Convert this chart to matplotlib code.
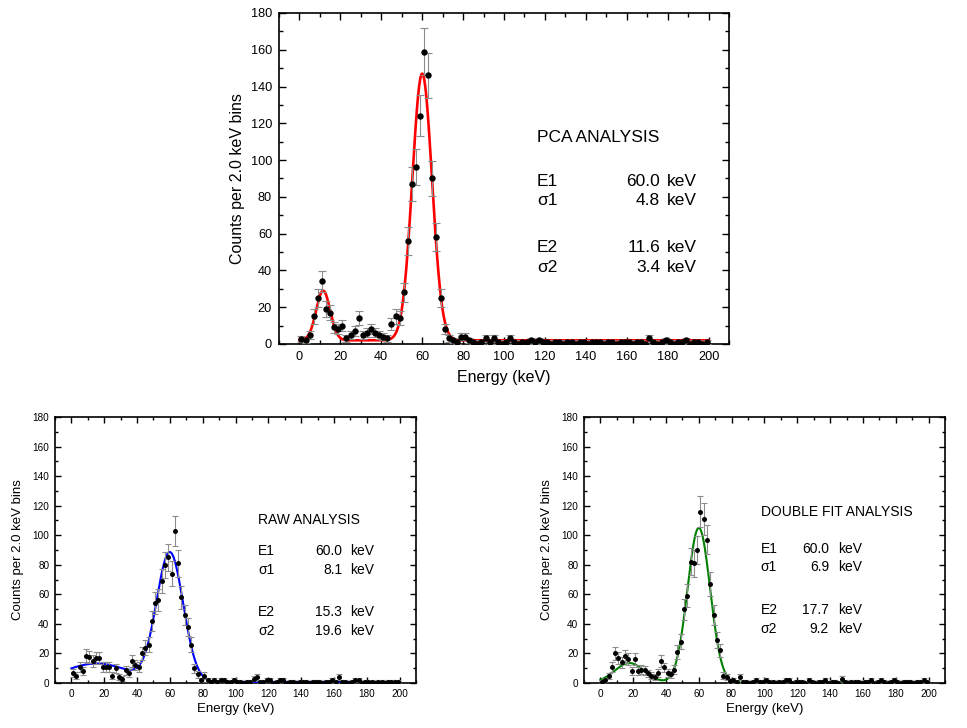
import numpy as np
from matplotlib import pyplot as plt
from matplotlib.ticker import MultipleLocator

plt.rcParams['font.family'] = ['Liberation Sans', 'DejaVu Sans']

# bin centres, 2.0 keV bins
energy = np.arange(1, 200, 2)

# counts per bin
pca_counts = [2.5, 2, 5, 15, 25, 34, 19, 17, 9, 8,
              10, 3, 5, 7, 14, 5, 6, 8, 6, 5,
              4, 3, 11, 15, 14, 28, 56, 87, 96, 124,
              159, 146, 90, 58, 25, 8, 3, 2, 1, 4,
              4, 2, 1, 0, 1, 3, 1, 3, 1, 0,
              1, 3, 1, 0, 1, 1, 2, 1, 2, 1,
              1, 0, 1, 1, 0, 1, 1, 0, 1, 1,
              0, 1, 1, 1, 0, 1, 1, 0, 1, 1,
              1, 0, 1, 1, 0, 3, 1, 0, 1, 2,
              1, 0, 1, 1, 2, 0, 1, 1, 0, 1]
raw_counts = [7, 5, 11, 8, 18.5, 17.5, 15, 17, 17, 11,
              11, 11, 5, 10, 4, 3, 8.5, 7, 15, 12,
              11, 20, 24, 26, 42, 54, 56, 69, 80, 85,
              74, 103, 81, 58, 46, 38, 26, 10, 6, 2,
              5, 2, 1, 2, 1, 2, 2, 1, 1, 2,
              1, 1, 0, 1, 1, 3, 4, 1, 1, 2,
              2, 0, 1, 2, 2, 0, 1, 1, 0, 1,
              1, 1, 0, 1, 1, 1, 0, 1, 1, 2,
              1, 4, 1, 1, 0, 1, 2, 2, 0, 1,
              1, 1, 0, 1, 1, 0, 1, 1, 1, 1]
dbl_counts = [1, 2, 4.5, 11, 20, 17, 14, 18, 16, 8,
              16, 8, 9, 8.5, 6.5, 5, 4, 7, 15, 10.5,
              7, 6, 9, 21, 28, 50, 59, 82, 81, 90,
              116, 111, 97, 67, 46, 29, 22, 5, 4, 1.5,
              2, 1, 4, 1, 1, 0, 1, 2, 1, 1,
              2, 1, 1, 0, 1, 1, 2, 2, 0, 1,
              1, 1, 0, 2, 1, 0, 1, 1, 2, 0,
              1, 1, 0, 3, 1, 0, 1, 1, 1, 0,
              1, 1, 2, 0, 1, 2, 1, 0, 1, 2,
              1, 0, 1, 1, 1, 0, 1, 1, 2, 1]

# fit results: amplitude1, E1, sigma1, amplitude2, E2, sigma2, background
pca_fit = (145, 60.0, 4.8, 27, 11.6, 3.4, 2.0)
raw_fit = (87, 60.0, 8.1, 12.5, 15.3, 19.6, 0.7)
dbl_fit = (105, 60.0, 6.9, 13.5, 17.7, 9.2, 0.0)


def model(x, a1, e1, s1, a2, e2, s2, bg):
    return (bg + a1 * np.exp(-(x - e1) ** 2 / (2 * s1 ** 2))
            + a2 * np.exp(-(x - e2) ** 2 / (2 * s2 ** 2)))


def panel(ax, counts, fit, colour, title, big):
    counts = np.array(counts, dtype=float)
    err = np.sqrt(np.maximum(counts, 1))
    xs = np.linspace(0, 200, 801)
    tick_fs = 9.2 if big else 7.2
    lab_fs = 11.5 if big else 9.5
    ann_fs = 12.5 if big else 10
    ax.plot(xs, model(xs, *fit), color=colour, lw=1.9 if big else 1.5, zorder=3)
    ax.errorbar(energy, counts, yerr=err, fmt='none', ecolor='#8c8c8c',
                elinewidth=0.8, capsize=2.6 if big else 2.2, capthick=0.8, zorder=4)
    ax.plot(energy, counts, 'o', color='black', mec='none',
            ms=4.6 if big else 3.6, zorder=5)
    ax.set_xlim(-10, 210)
    ax.set_ylim(0, 180)
    ax.xaxis.set_major_locator(MultipleLocator(20))
    ax.xaxis.set_minor_locator(MultipleLocator(10))
    ax.yaxis.set_major_locator(MultipleLocator(20))
    ax.yaxis.set_minor_locator(MultipleLocator(10))
    ax.tick_params(which='both', direction='in', top=True, right=True,
                   labelsize=tick_fs, width=1.0)
    ax.tick_params(which='major', length=5 if big else 4.5, pad=5 if big else 4)
    ax.tick_params(which='minor', length=3 if big else 2.5)
    for s in ax.spines.values():
        s.set_linewidth(1.2)
    ax.set_xlabel('Energy (keV)', fontsize=lab_fs, labelpad=5 if big else 3)
    ax.set_ylabel('Counts per 2.0 keV bins', fontsize=lab_fs,
                  labelpad=4 if big else 6)

    if big:
        tx, nx, kx = 0.573, 0.847, 0.862
        ys = [0.625, 0.492, 0.432, 0.290, 0.230]
    elif title.startswith('RAW'):
        tx, nx, kx = 0.562, 0.795, 0.817
        ys = [0.613, 0.496, 0.425, 0.267, 0.195]
    else:
        tx, nx, kx = 0.490, 0.679, 0.704
        ys = [0.643, 0.504, 0.436, 0.274, 0.203]
    kw = dict(transform=ax.transAxes, fontsize=ann_fs, va='center')
    ax.text(tx, ys[0], title, ha='left', **kw)
    rows = [('E1', fit[1]), ('\u03c31', fit[2]), ('E2', fit[4]), ('\u03c32', fit[5])]
    for (name, val), y in zip(rows, ys[1:]):
        ax.text(tx, y, name, ha='left', **kw)
        ax.text(nx, y, '%.1f' % val, ha='right', **kw)
        ax.text(kx, y, 'keV', ha='left', **kw)


fig = plt.figure(figsize=(9.67, 7.28), dpi=100)
ax_top = fig.add_axes([0.2885, 0.5275, 0.4654, 0.4547])
ax_raw = fig.add_axes([0.0569, 0.0618, 0.3733, 0.3654])
ax_dbl = fig.add_axes([0.6039, 0.0618, 0.3733, 0.3654])

panel(ax_top, pca_counts, pca_fit, '#ff0000', 'PCA ANALYSIS', True)
panel(ax_raw, raw_counts, raw_fit, '#0000ff', 'RAW ANALYSIS', False)
panel(ax_dbl, dbl_counts, dbl_fit, '#008000', 'DOUBLE FIT ANALYSIS', False)

fig.savefig('out.png', dpi=100)
